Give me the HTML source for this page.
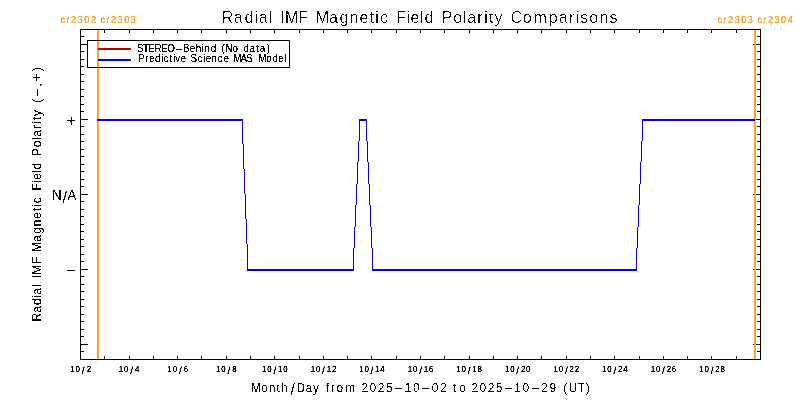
<!DOCTYPE html>
<html lang="en"><head><meta charset="utf-8"><title>Radial IMF Magnetic Field Polarity Comparisons</title>
<style>html,body{margin:0;padding:0;background:#fff;}body{width:800px;height:400px;overflow:hidden;}svg{display:block;will-change:transform;}text{font-family:"Liberation Sans",sans-serif;white-space:pre;}</style>
</head><body>
<svg width="800" height="400" viewBox="0 0 800 400">
<defs><filter id="s3_30" x="0" y="0" width="800" height="400" filterUnits="userSpaceOnUse" color-interpolation-filters="sRGB"><feComponentTransfer><feFuncA type="linear" slope="3" intercept="-0.3"/></feComponentTransfer></filter><filter id="s3_45" x="0" y="0" width="800" height="400" filterUnits="userSpaceOnUse" color-interpolation-filters="sRGB"><feComponentTransfer><feFuncA type="linear" slope="3" intercept="-0.45"/></feComponentTransfer></filter><filter id="t38" x="0" y="0" width="800" height="400" filterUnits="userSpaceOnUse" color-interpolation-filters="sRGB"><feComponentTransfer><feFuncA type="discrete" tableValues="0 0 0 0 0 0 0 0 0 0 0 0 0 0 0 0 0 0 0 1 1 1 1 1 1 1 1 1 1 1 1 1 1 1 1 1 1 1 1 1 1 1 1 1 1 1 1 1 1 1"/></feComponentTransfer></filter><filter id="t44" x="0" y="0" width="800" height="400" filterUnits="userSpaceOnUse" color-interpolation-filters="sRGB"><feComponentTransfer><feFuncA type="discrete" tableValues="0 0 0 0 0 0 0 0 0 0 0 0 0 0 0 0 0 0 0 0 0 0 1 1 1 1 1 1 1 1 1 1 1 1 1 1 1 1 1 1 1 1 1 1 1 1 1 1 1 1"/></feComponentTransfer></filter><filter id="t50" x="0" y="0" width="800" height="400" filterUnits="userSpaceOnUse" color-interpolation-filters="sRGB"><feComponentTransfer><feFuncA type="discrete" tableValues="0 0 0 0 0 0 0 0 0 0 0 0 0 0 0 0 0 0 0 0 0 0 0 0 0 1 1 1 1 1 1 1 1 1 1 1 1 1 1 1 1 1 1 1 1 1 1 1 1 1"/></feComponentTransfer></filter><filter id="t52" x="0" y="0" width="800" height="400" filterUnits="userSpaceOnUse" color-interpolation-filters="sRGB"><feComponentTransfer><feFuncA type="discrete" tableValues="0 0 0 0 0 0 0 0 0 0 0 0 0 0 0 0 0 0 0 0 0 0 0 0 0 0 1 1 1 1 1 1 1 1 1 1 1 1 1 1 1 1 1 1 1 1 1 1 1 1"/></feComponentTransfer></filter><filter id="t62" x="0" y="0" width="800" height="400" filterUnits="userSpaceOnUse" color-interpolation-filters="sRGB"><feComponentTransfer><feFuncA type="discrete" tableValues="0 0 0 0 0 0 0 0 0 0 0 0 0 0 0 0 0 0 0 0 0 0 0 0 0 0 0 0 0 0 0 1 1 1 1 1 1 1 1 1 1 1 1 1 1 1 1 1 1 1"/></feComponentTransfer></filter></defs>
<rect x="0" y="0" width="800" height="400" fill="#fff"/>
<g shape-rendering="crispEdges">
<rect x="80" y="29" width="681" height="1" fill="#000"/>
<rect x="80" y="359" width="681" height="1" fill="#000"/>
<rect x="80" y="29" width="1" height="331" fill="#000"/>
<rect x="760" y="29" width="1" height="331" fill="#000"/>
<rect x="104" y="29" width="1" height="4" fill="#000"/>
<rect x="104" y="356" width="1" height="4" fill="#000"/>
<rect x="129" y="29" width="1" height="4" fill="#000"/>
<rect x="129" y="356" width="1" height="4" fill="#000"/>
<rect x="153" y="29" width="1" height="4" fill="#000"/>
<rect x="153" y="356" width="1" height="4" fill="#000"/>
<rect x="177" y="29" width="1" height="4" fill="#000"/>
<rect x="177" y="356" width="1" height="4" fill="#000"/>
<rect x="201" y="29" width="1" height="4" fill="#000"/>
<rect x="201" y="356" width="1" height="4" fill="#000"/>
<rect x="226" y="29" width="1" height="4" fill="#000"/>
<rect x="226" y="356" width="1" height="4" fill="#000"/>
<rect x="250" y="29" width="1" height="4" fill="#000"/>
<rect x="250" y="356" width="1" height="4" fill="#000"/>
<rect x="274" y="29" width="1" height="4" fill="#000"/>
<rect x="274" y="356" width="1" height="4" fill="#000"/>
<rect x="299" y="29" width="1" height="4" fill="#000"/>
<rect x="299" y="356" width="1" height="4" fill="#000"/>
<rect x="323" y="29" width="1" height="4" fill="#000"/>
<rect x="323" y="356" width="1" height="4" fill="#000"/>
<rect x="347" y="29" width="1" height="4" fill="#000"/>
<rect x="347" y="356" width="1" height="4" fill="#000"/>
<rect x="371" y="29" width="1" height="4" fill="#000"/>
<rect x="371" y="356" width="1" height="4" fill="#000"/>
<rect x="396" y="29" width="1" height="4" fill="#000"/>
<rect x="396" y="356" width="1" height="4" fill="#000"/>
<rect x="420" y="29" width="1" height="4" fill="#000"/>
<rect x="420" y="356" width="1" height="4" fill="#000"/>
<rect x="444" y="29" width="1" height="4" fill="#000"/>
<rect x="444" y="356" width="1" height="4" fill="#000"/>
<rect x="469" y="29" width="1" height="4" fill="#000"/>
<rect x="469" y="356" width="1" height="4" fill="#000"/>
<rect x="493" y="29" width="1" height="4" fill="#000"/>
<rect x="493" y="356" width="1" height="4" fill="#000"/>
<rect x="517" y="29" width="1" height="4" fill="#000"/>
<rect x="517" y="356" width="1" height="4" fill="#000"/>
<rect x="541" y="29" width="1" height="4" fill="#000"/>
<rect x="541" y="356" width="1" height="4" fill="#000"/>
<rect x="566" y="29" width="1" height="4" fill="#000"/>
<rect x="566" y="356" width="1" height="4" fill="#000"/>
<rect x="590" y="29" width="1" height="4" fill="#000"/>
<rect x="590" y="356" width="1" height="4" fill="#000"/>
<rect x="614" y="29" width="1" height="4" fill="#000"/>
<rect x="614" y="356" width="1" height="4" fill="#000"/>
<rect x="639" y="29" width="1" height="4" fill="#000"/>
<rect x="639" y="356" width="1" height="4" fill="#000"/>
<rect x="663" y="29" width="1" height="4" fill="#000"/>
<rect x="663" y="356" width="1" height="4" fill="#000"/>
<rect x="687" y="29" width="1" height="4" fill="#000"/>
<rect x="687" y="356" width="1" height="4" fill="#000"/>
<rect x="711" y="29" width="1" height="4" fill="#000"/>
<rect x="711" y="356" width="1" height="4" fill="#000"/>
<rect x="736" y="29" width="1" height="4" fill="#000"/>
<rect x="736" y="356" width="1" height="4" fill="#000"/>
<rect x="80" y="351" width="4" height="1" fill="#000"/>
<rect x="757" y="351" width="4" height="1" fill="#000"/>
<rect x="80" y="344" width="8" height="1" fill="#000"/>
<rect x="753" y="344" width="8" height="1" fill="#000"/>
<rect x="80" y="336" width="4" height="1" fill="#000"/>
<rect x="757" y="336" width="4" height="1" fill="#000"/>
<rect x="80" y="329" width="4" height="1" fill="#000"/>
<rect x="757" y="329" width="4" height="1" fill="#000"/>
<rect x="80" y="321" width="4" height="1" fill="#000"/>
<rect x="757" y="321" width="4" height="1" fill="#000"/>
<rect x="80" y="314" width="4" height="1" fill="#000"/>
<rect x="757" y="314" width="4" height="1" fill="#000"/>
<rect x="80" y="306" width="4" height="1" fill="#000"/>
<rect x="757" y="306" width="4" height="1" fill="#000"/>
<rect x="80" y="299" width="4" height="1" fill="#000"/>
<rect x="757" y="299" width="4" height="1" fill="#000"/>
<rect x="80" y="291" width="4" height="1" fill="#000"/>
<rect x="757" y="291" width="4" height="1" fill="#000"/>
<rect x="80" y="284" width="4" height="1" fill="#000"/>
<rect x="757" y="284" width="4" height="1" fill="#000"/>
<rect x="80" y="276" width="4" height="1" fill="#000"/>
<rect x="757" y="276" width="4" height="1" fill="#000"/>
<rect x="80" y="269" width="8" height="1" fill="#000"/>
<rect x="753" y="269" width="8" height="1" fill="#000"/>
<rect x="80" y="261" width="4" height="1" fill="#000"/>
<rect x="757" y="261" width="4" height="1" fill="#000"/>
<rect x="80" y="254" width="4" height="1" fill="#000"/>
<rect x="757" y="254" width="4" height="1" fill="#000"/>
<rect x="80" y="246" width="4" height="1" fill="#000"/>
<rect x="757" y="246" width="4" height="1" fill="#000"/>
<rect x="80" y="239" width="4" height="1" fill="#000"/>
<rect x="757" y="239" width="4" height="1" fill="#000"/>
<rect x="80" y="231" width="4" height="1" fill="#000"/>
<rect x="757" y="231" width="4" height="1" fill="#000"/>
<rect x="80" y="224" width="4" height="1" fill="#000"/>
<rect x="757" y="224" width="4" height="1" fill="#000"/>
<rect x="80" y="216" width="4" height="1" fill="#000"/>
<rect x="757" y="216" width="4" height="1" fill="#000"/>
<rect x="80" y="209" width="4" height="1" fill="#000"/>
<rect x="757" y="209" width="4" height="1" fill="#000"/>
<rect x="80" y="201" width="4" height="1" fill="#000"/>
<rect x="757" y="201" width="4" height="1" fill="#000"/>
<rect x="80" y="194" width="8" height="1" fill="#000"/>
<rect x="753" y="194" width="8" height="1" fill="#000"/>
<rect x="80" y="186" width="4" height="1" fill="#000"/>
<rect x="757" y="186" width="4" height="1" fill="#000"/>
<rect x="80" y="179" width="4" height="1" fill="#000"/>
<rect x="757" y="179" width="4" height="1" fill="#000"/>
<rect x="80" y="171" width="4" height="1" fill="#000"/>
<rect x="757" y="171" width="4" height="1" fill="#000"/>
<rect x="80" y="164" width="4" height="1" fill="#000"/>
<rect x="757" y="164" width="4" height="1" fill="#000"/>
<rect x="80" y="156" width="4" height="1" fill="#000"/>
<rect x="757" y="156" width="4" height="1" fill="#000"/>
<rect x="80" y="149" width="4" height="1" fill="#000"/>
<rect x="757" y="149" width="4" height="1" fill="#000"/>
<rect x="80" y="141" width="4" height="1" fill="#000"/>
<rect x="757" y="141" width="4" height="1" fill="#000"/>
<rect x="80" y="134" width="4" height="1" fill="#000"/>
<rect x="757" y="134" width="4" height="1" fill="#000"/>
<rect x="80" y="126" width="4" height="1" fill="#000"/>
<rect x="757" y="126" width="4" height="1" fill="#000"/>
<rect x="80" y="119" width="8" height="1" fill="#000"/>
<rect x="753" y="119" width="8" height="1" fill="#000"/>
<rect x="80" y="111" width="4" height="1" fill="#000"/>
<rect x="757" y="111" width="4" height="1" fill="#000"/>
<rect x="80" y="104" width="4" height="1" fill="#000"/>
<rect x="757" y="104" width="4" height="1" fill="#000"/>
<rect x="80" y="96" width="4" height="1" fill="#000"/>
<rect x="757" y="96" width="4" height="1" fill="#000"/>
<rect x="80" y="89" width="4" height="1" fill="#000"/>
<rect x="757" y="89" width="4" height="1" fill="#000"/>
<rect x="80" y="81" width="4" height="1" fill="#000"/>
<rect x="757" y="81" width="4" height="1" fill="#000"/>
<rect x="80" y="74" width="4" height="1" fill="#000"/>
<rect x="757" y="74" width="4" height="1" fill="#000"/>
<rect x="80" y="66" width="4" height="1" fill="#000"/>
<rect x="757" y="66" width="4" height="1" fill="#000"/>
<rect x="80" y="59" width="4" height="1" fill="#000"/>
<rect x="757" y="59" width="4" height="1" fill="#000"/>
<rect x="80" y="51" width="4" height="1" fill="#000"/>
<rect x="757" y="51" width="4" height="1" fill="#000"/>
<rect x="80" y="44" width="8" height="1" fill="#000"/>
<rect x="753" y="44" width="8" height="1" fill="#000"/>
<rect x="80" y="36" width="4" height="1" fill="#000"/>
<rect x="757" y="36" width="4" height="1" fill="#000"/>
<rect x="97" y="30" width="2" height="329" fill="#FFA432"/>
<rect x="754" y="30" width="2" height="329" fill="#FFA432"/>
<rect x="97" y="119" width="146" height="2" fill="#0000FC"/>
<rect x="242" y="119" width="1" height="25" fill="#0000FC"/>
<rect x="243" y="144" width="1" height="25" fill="#0000FC"/>
<rect x="244" y="169" width="1" height="25" fill="#0000FC"/>
<rect x="245" y="194" width="1" height="25" fill="#0000FC"/>
<rect x="246" y="219" width="1" height="25" fill="#0000FC"/>
<rect x="247" y="244" width="1" height="27" fill="#0000FC"/>
<rect x="247" y="269" width="107" height="2" fill="#0000FC"/>
<rect x="359" y="119" width="1" height="22" fill="#0000FC"/>
<rect x="358" y="141" width="1" height="21" fill="#0000FC"/>
<rect x="357" y="162" width="1" height="22" fill="#0000FC"/>
<rect x="356" y="184" width="1" height="21" fill="#0000FC"/>
<rect x="355" y="205" width="1" height="22" fill="#0000FC"/>
<rect x="354" y="227" width="1" height="21" fill="#0000FC"/>
<rect x="353" y="248" width="1" height="23" fill="#0000FC"/>
<rect x="359" y="119" width="8" height="2" fill="#0000FC"/>
<rect x="366" y="119" width="1" height="22" fill="#0000FC"/>
<rect x="367" y="141" width="1" height="21" fill="#0000FC"/>
<rect x="368" y="162" width="1" height="22" fill="#0000FC"/>
<rect x="369" y="184" width="1" height="21" fill="#0000FC"/>
<rect x="370" y="205" width="1" height="22" fill="#0000FC"/>
<rect x="371" y="227" width="1" height="21" fill="#0000FC"/>
<rect x="372" y="248" width="1" height="23" fill="#0000FC"/>
<rect x="372" y="269" width="265" height="2" fill="#0000FC"/>
<rect x="642" y="119" width="1" height="22" fill="#0000FC"/>
<rect x="641" y="141" width="1" height="21" fill="#0000FC"/>
<rect x="640" y="162" width="1" height="22" fill="#0000FC"/>
<rect x="639" y="184" width="1" height="21" fill="#0000FC"/>
<rect x="638" y="205" width="1" height="22" fill="#0000FC"/>
<rect x="637" y="227" width="1" height="21" fill="#0000FC"/>
<rect x="636" y="248" width="1" height="23" fill="#0000FC"/>
<rect x="642" y="119" width="113" height="2" fill="#0000FC"/>
<rect x="87" y="40" width="203" height="1" fill="#000"/>
<rect x="87" y="67" width="203" height="1" fill="#000"/>
<rect x="87" y="40" width="1" height="28" fill="#000"/>
<rect x="289" y="40" width="1" height="28" fill="#000"/>
<rect x="98" y="48" width="33" height="2" fill="#B90000"/>
<rect x="98" y="59" width="33" height="2" fill="#0000FC"/>
</g>
<g filter="url(#t62)"><text transform="scale(0.92,1.0)" x="240.96 254.12 265.87 276.53 281.19 292.41 298.66 304.92 309.88 324.31 333.72 343.14 357.61 369.15 379.93 390.66 401.66 408 412.95 421.8 430.64 441.79 446.29 456.58 461.55 470.82 480.09 492.75 503.36 507.81 518.83 526.24 531.4 537.53 546.31 555.09 568.23 580 596.4 607.23 618.37 625.85 630.74 640.6 651.59 662.58" y="23" font-size="17.4" fill="#000">Radial IMF Magnetic Field Polarity Comparisons</text></g>
<g filter="url(#s3_30)"><text transform="scale(0.9,1.0)" text-rendering="geometricPrecision" x="67.35 73.73 78.92 86.31 93.64 101 106.4 111.79 118.15 123.33 130.7 138.01 145.38" y="23" font-size="10.1" fill="#FFA432">cr2302 cr2303</text></g>
<g filter="url(#s3_30)"><text transform="scale(0.9,1.0)" text-rendering="geometricPrecision" x="797.35 803.71 808.89 816.26 823.57 830.94 836.37 841.79 848.13 853.28 860.62 867.9 875.23" y="23" font-size="10.1" fill="#FFA432">cr2303 cr2304</text></g>
<g filter="url(#t38)"><text transform="scale(0.85,1.0)" x="161.24 168.35 174.4 181.64 189.49 196.81 205.75 215.2 223.38 230.32 237.38 240.52 247.83 254.14 260.46 265.05 273.45 280.01 286.57 293.58 301.42 305.63 313.92" y="52" font-size="11.6" fill="#000">STEREO<tspan textLength="9.24" lengthAdjust="spacingAndGlyphs">-</tspan>Behind (No data)</text></g>
<g filter="url(#t38)"><text transform="scale(0.85,1.0)" x="162.58 170.72 175.49 182.48 189.31 192.44 199.36 203.44 206.29 212.3 218.24 224.18 232.28 238.94 241.96 248.98 256.26 262.89 268.62 274.34 282.94 289.85 296.8 303.75 313.36 320.56 327.32 334.08" y="62" font-size="11.6" fill="#000">Predictive Science MAS Model</text></g>
<g filter="url(#t50)"><text x="66.29" y="126.2" font-size="17" fill="#000">+</text></g>
<g filter="url(#t50)"><text transform="scale(0.92,1.0)" x="56.42 67.9 73.51" y="200 202.94 200" font-size="14.5" fill="#000">N<tspan font-size="16.35" textLength="5" lengthAdjust="spacingAndGlyphs">/</tspan>A</text></g>
<g filter="url(#t50)"><text x="65.48" y="275" font-size="14.5" fill="#000"><tspan textLength="11.05" lengthAdjust="spacingAndGlyphs">-</tspan></text></g>
<g filter="url(#s3_45)"><text transform="scale(0.9,1.0)" text-rendering="geometricPrecision" x="78 83.98 90.96 96.27" y="372 372 373.86 372" font-size="8.7" fill="#000">10<tspan font-size="10.31" textLength="3.15" lengthAdjust="spacingAndGlyphs">/</tspan>2</text></g>
<g filter="url(#s3_45)"><text transform="scale(0.9,1.0)" text-rendering="geometricPrecision" x="131.97 137.88 144.79 150.05" y="372 372 373.86 372" font-size="8.7" fill="#000">10<tspan font-size="10.31" textLength="3.15" lengthAdjust="spacingAndGlyphs">/</tspan>4</text></g>
<g filter="url(#s3_45)"><text transform="scale(0.9,1.0)" text-rendering="geometricPrecision" x="185.94 191.9 198.88 204.15" y="372 372 373.86 372" font-size="8.7" fill="#000">10<tspan font-size="10.31" textLength="3.15" lengthAdjust="spacingAndGlyphs">/</tspan>6</text></g>
<g filter="url(#s3_45)"><text transform="scale(0.9,1.0)" text-rendering="geometricPrecision" x="239.91 245.86 252.83 258.11" y="372 372 373.86 372" font-size="8.7" fill="#000">10<tspan font-size="10.31" textLength="3.15" lengthAdjust="spacingAndGlyphs">/</tspan>8</text></g>
<g filter="url(#s3_45)"><text transform="scale(0.9,1.0)" text-rendering="geometricPrecision" x="291.21 297.03 303.86 308.89 314.71" y="372 372 373.86 372 372" font-size="8.7" fill="#000">10<tspan font-size="10.31" textLength="3.15" lengthAdjust="spacingAndGlyphs">/</tspan>10</text></g>
<g filter="url(#s3_45)"><text transform="scale(0.9,1.0)" text-rendering="geometricPrecision" x="345.18 351.02 357.88 362.93 368.77" y="372 372 373.86 372 372" font-size="8.7" fill="#000">10<tspan font-size="10.31" textLength="3.15" lengthAdjust="spacingAndGlyphs">/</tspan>12</text></g>
<g filter="url(#s3_45)"><text transform="scale(0.9,1.0)" text-rendering="geometricPrecision" x="399.15 404.94 411.74 416.74 422.56" y="372 372 373.86 372 372" font-size="8.7" fill="#000">10<tspan font-size="10.31" textLength="3.15" lengthAdjust="spacingAndGlyphs">/</tspan>14</text></g>
<g filter="url(#s3_45)"><text transform="scale(0.9,1.0)" text-rendering="geometricPrecision" x="453.12 458.95 465.8 470.85 476.65" y="372 372 373.86 372 372" font-size="8.7" fill="#000">10<tspan font-size="10.31" textLength="3.15" lengthAdjust="spacingAndGlyphs">/</tspan>16</text></g>
<g filter="url(#s3_45)"><text transform="scale(0.9,1.0)" text-rendering="geometricPrecision" x="507.08 512.91 519.75 524.79 530.62" y="372 372 373.86 372 372" font-size="8.7" fill="#000">10<tspan font-size="10.31" textLength="3.15" lengthAdjust="spacingAndGlyphs">/</tspan>18</text></g>
<g filter="url(#s3_45)"><text transform="scale(0.9,1.0)" text-rendering="geometricPrecision" x="561.05 566.87 573.7 578.85 584.55" y="372 372 373.86 372 372" font-size="8.7" fill="#000">10<tspan font-size="10.31" textLength="3.15" lengthAdjust="spacingAndGlyphs">/</tspan>20</text></g>
<g filter="url(#s3_45)"><text transform="scale(0.9,1.0)" text-rendering="geometricPrecision" x="615.02 620.86 627.72 632.89 638.61" y="372 372 373.86 372 372" font-size="8.7" fill="#000">10<tspan font-size="10.31" textLength="3.15" lengthAdjust="spacingAndGlyphs">/</tspan>22</text></g>
<g filter="url(#s3_45)"><text transform="scale(0.9,1.0)" text-rendering="geometricPrecision" x="668.99 674.78 681.58 686.7 692.4" y="372 372 373.86 372 372" font-size="8.7" fill="#000">10<tspan font-size="10.31" textLength="3.15" lengthAdjust="spacingAndGlyphs">/</tspan>24</text></g>
<g filter="url(#s3_45)"><text transform="scale(0.9,1.0)" text-rendering="geometricPrecision" x="722.96 728.79 735.64 740.81 746.5" y="372 372 373.86 372 372" font-size="8.7" fill="#000">10<tspan font-size="10.31" textLength="3.15" lengthAdjust="spacingAndGlyphs">/</tspan>26</text></g>
<g filter="url(#s3_45)"><text transform="scale(0.9,1.0)" text-rendering="geometricPrecision" x="776.92 782.75 789.6 794.75 800.46" y="372 372 373.86 372 372" font-size="8.7" fill="#000">10<tspan font-size="10.31" textLength="3.15" lengthAdjust="spacingAndGlyphs">/</tspan>28</text></g>
<g filter="url(#t52)"><text transform="scale(0.92,1.0)" x="272.85 283.94 292.14 300.61 305.52 315.64 322.4 332.06 340.26 347.21 354.16 359.41 365.74 375.35 384.09 392.82 401.72 410.61 419.52 428.01 439.78 448.86 457.36 469.31 478.21 485.2 492.19 499.29 505.84 512.39 521.22 530.06 538.9 547.32 559.03 568.04 576.47 588.35 597.19 604.71 612.24 618.29 627.68 636.69" y="392 392 392 392 392 394.8 392 392 392 392 392 392 392 392 392 392 392 392 392 392 392 392 392 392 392 392 392 392 392 392 392 392 392 392 392 392 392 392 392 392 392 392 392 392" font-size="13" fill="#000">Month<tspan font-size="15.57" textLength="4.76" lengthAdjust="spacingAndGlyphs">/</tspan>Day from 2025<tspan textLength="10.67" lengthAdjust="spacingAndGlyphs">-</tspan>10<tspan textLength="10.67" lengthAdjust="spacingAndGlyphs">-</tspan>02 to 2025<tspan textLength="10.67" lengthAdjust="spacingAndGlyphs">-</tspan>10<tspan textLength="10.67" lengthAdjust="spacingAndGlyphs">-</tspan>29 (UT)</text></g>
<g filter="url(#t44)"><text transform="translate(40.5,321.5) rotate(-90) scale(0.92,1.0)" x="0.02 9.51 17.97 25.7 28.96 37.11 41.87 46.63 50.78 62.14 68.85 75.56 86.54 95.32 103.51 111.67 120.01 124.82 128.63 135.52 142.41 150.7 154.03 161.67 165.35 172.63 179.91 189.49 197.5 200.9 209.24 214.83 218.75 223.42 230.6 237.78 243.79 255.26 260.64 272.02" y="0" font-size="13" fill="#000">Radial IMF Magnetic Field Polarity (<tspan textLength="10.67" lengthAdjust="spacingAndGlyphs">-</tspan>,<tspan font-size="14.95">+</tspan>)</text></g>
</svg>
</body></html>
